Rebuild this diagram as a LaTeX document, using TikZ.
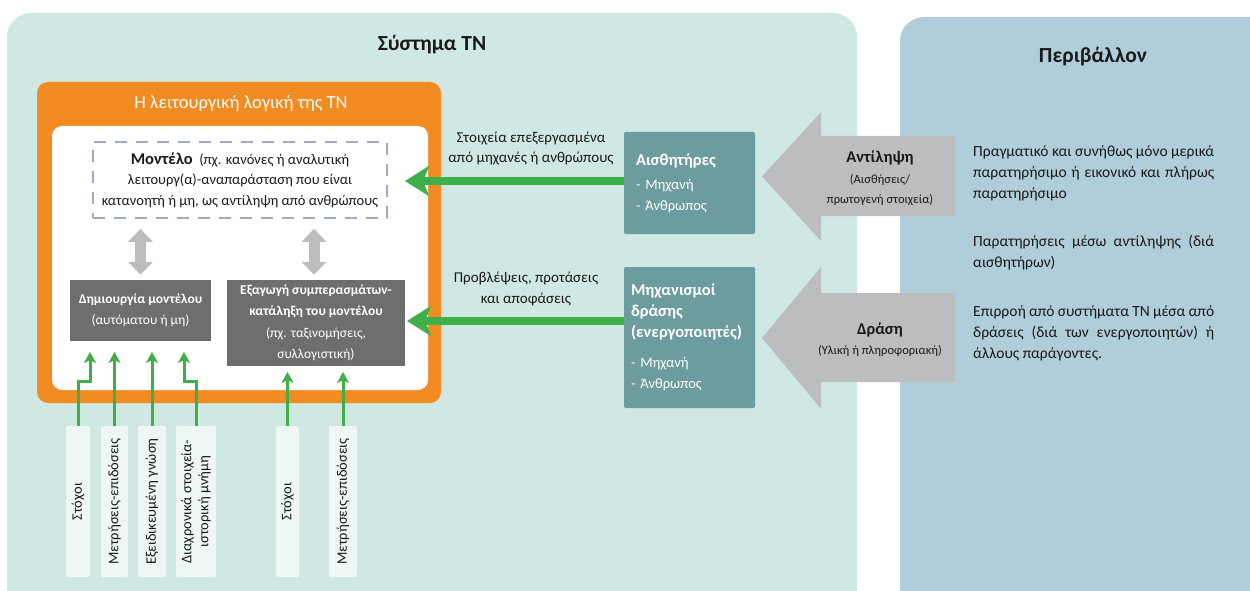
\documentclass[tikz,border=0pt]{standalone}
\usepackage{fontspec}
\setmainfont{Carlito}
\usetikzlibrary{arrows.meta,calc}
\definecolor{sysbg}{HTML}{CFE8E3}
\definecolor{envbg}{HTML}{B0CDDA}
\definecolor{orng}{HTML}{F28C22}
\definecolor{boxgray}{HTML}{6D6E70}
\definecolor{tealbox}{HTML}{6C9C9D}
\definecolor{grayarr}{HTML}{BCBDBF}
\definecolor{grn}{HTML}{3EAF49}
\definecolor{lblbg}{HTML}{EEF7F4}
\definecolor{dashc}{HTML}{A2A8C8}
\definecolor{txtc}{HTML}{1A1A1A}
\tikzset{
  body/.style={font=\fontsize{15}{20.5}\selectfont, text=txtc, inner sep=0pt, align=center},
  small/.style={font=\fontsize{12.5}{20}\selectfont, text=txtc, inner sep=0pt, align=center},
  darkbox/.style={fill=boxgray, text=white, inner sep=0pt, align=center, font=\fontsize{13.5}{21.5}\selectfont},
  tbox/.style={fill=tealbox, text=white, rounded corners=2pt, inner sep=0pt, align=left, font=\fontsize{14.5}{21}\selectfont},
  lbl/.style={fill=lblbg, rotate=90, minimum width=151pt, inner sep=0pt, rounded corners=2pt, align=center, text=txtc, font=\fontsize{14.5}{17}\selectfont},
  garrow/.style={draw=grn, line width=3pt, -{Stealth[length=11pt,width=12pt,inset=3pt]}},
  bigarrow/.style={draw=grn, line width=8pt, -{Stealth[length=24pt,width=30pt,inset=6pt]}},
  dblarrow/.style={draw=grayarr, line width=11pt, {Triangle[length=13pt,width=24pt]}-{Triangle[length=13pt,width=24pt]}},
  para/.style={inner sep=0pt, align=left, anchor=north west, text=txtc, font=\fontsize{15.5}{21}\selectfont},
}
\begin{document}
\begin{tikzpicture}[x=1pt,y=-1pt]
\useasboundingbox (0,0) rectangle (1250,591);
\begin{scope}
\clip (0,0) rectangle (1250,591);
% panels
\fill[sysbg, rounded corners=24pt] (7,13) rectangle (857,614);
\fill[envbg, rounded corners=24pt] (900,17) rectangle (1290,614);
\end{scope}
\node[font=\fontsize{21.5}{24}\selectfont\bfseries, text=txtc, inner sep=0pt] (systitle) at (432,45) {Σύστημα ΤΝ};
\node[font=\fontsize{21.5}{24}\selectfont\bfseries, text=txtc, inner sep=0pt] (envtitle) at (1093,57) {Περιβάλλον};

% orange logic box
\node[fill=orng, rounded corners=11pt, minimum width=404pt, minimum height=321pt, inner sep=0pt] (logic) at (239,242.5) {};
\node[fill=white, rounded corners=10pt, minimum width=376pt, minimum height=264pt, inner sep=0pt] (inner) at (240,258) {};
\node[font=\fontsize{18.5}{22}\selectfont, text=white, inner sep=0pt] (logictitle) at (241,103) {Η λειτουργική λογική της ΤΝ};

% model
\node[draw=dashc, line width=1.6pt, dash pattern=on 12pt off 9pt, minimum width=294pt, minimum height=76pt, body, font=\fontsize{14.5}{20.5}\selectfont] (model) at (240,180)
 {{\fontsize{16.5}{20}\selectfont\bfseries Μοντέλο}~~(πχ. κανόνες ή αναλυτική\\λειτουργ(α)-αναπαράσταση που είναι\\κατανοητή ή μη, ως αντίληψη από ανθρώπους};

% dark boxes
\node[darkbox, minimum width=141pt, minimum height=61pt] (create) at (140.5,310.5)
 {\bfseries Δημιουργία μοντέλου\\(αυτόματου ή μη)};
\node[darkbox, minimum width=178pt, minimum height=86pt] (infer) at (316,323)
 {\bfseries Εξαγωγή συμπερασμάτων-\\\bfseries κατάληξη του μοντέλου\\(πχ. ταξινομήσεις,\\συλλογιστική)};

% gray double arrows
\draw[dblarrow] ([yshift=-10pt]model.south -| create.north) -- ([yshift=5pt]create.north);
\draw[dblarrow] ([yshift=-10pt]model.south -| 314,0) -- ([yshift=5pt]infer.north -| 314,0);

% bottom labels
\node[lbl, minimum height=24pt] (b1) at (78,501.5) {Στόχοι};
\node[lbl, minimum height=27pt] (b2) at (114.5,501.5) {Μετρήσεις-επιδόσεις};
\node[lbl, minimum height=28pt] (b3) at (152,501.5) {Εξειδικευμένη γνώση};
\node[lbl, minimum height=40pt] (b4) at (196,501.5) {Διαχρονικά στοιχεία-\\ιστορική μνήμη};
\node[lbl, minimum height=23pt] (b5) at (287.5,501.5) {Στόχοι};
\node[lbl, minimum height=28pt] (b6) at (343,501.5) {Μετρήσεις-επιδόσεις};

\coordinate (t1) at (90,352);
\coordinate (t4) at (184,352);
\coordinate (t5) at (287.5,372);
\draw[garrow] (b1.east) -- ++(0,-44) -| (t1);
\draw[garrow] (b2.east) -- (b2.east |- t1);
\draw[garrow] (b3.east) -- (b3.east |- t1);
\draw[garrow] (b4.east) -- ++(0,-44) -| (t4);
\draw[garrow] (b5.east) -- (b5.east |- t5);
\draw[garrow] (b6.east) -- (b6.east |- t5);

% teal boxes
\node[tbox, minimum width=131pt, minimum height=102pt, text width=107pt] (sens) at (689.5,183)
 {{\fontsize{16.5}{20}\selectfont\bfseries Αισθητήρες}\\[3pt]- Μηχανή\\- Άνθρωπος};
\node[tbox, minimum width=131pt, minimum height=141pt, text width=117pt] (act) at (689.5,337.5)
 {{\fontsize{16.5}{20.5}\selectfont\bfseries Μηχανισμοί\\δράσης\\(ενεργοποιητές)}\\[9pt]- Μηχανή\\- Άνθρωπος};

% green horizontal arrows
\coordinate (tipA) at (405,181);
\coordinate (tipB) at (407,321);
\draw[bigarrow] (sens.west |- tipA) -- (tipA);
\draw[bigarrow] (act.west |- tipB) -- (tipB);
\node[body] (lblA) at (531,148.5) {Στοιχεία επεξεργασμένα\\από μηχανές ή ανθρώπους};
\node[body] (lblB) at (526,289) {Προβλέψεις, προτάσεις\\και αποφάσεις};

% gray big arrows
\fill[grayarr] (955,136) -- (821,136) -- (821,112) -- (762,176.5) -- (821,241) -- (821,216) -- (955,216) -- cycle;
\fill[grayarr] (955,293) -- (821,293) -- (821,267) -- (762,338) -- (821,409) -- (821,382) -- (955,382) -- cycle;
\node[font=\fontsize{16.5}{20}\selectfont\bfseries, text=txtc, inner sep=0pt] (perc) at (880,158) {Αντίληψη};
\node[small] (percsub) at (880,190) {(Αισθήσεις/\\πρωτογενή στοιχεία)};
\node[font=\fontsize{16.5}{20}\selectfont\bfseries, text=txtc, inner sep=0pt] (actn) at (880,330) {Δράση};
\node[small] (actnsub) at (880,351) {(Υλική ή πληροφοριακή)};

% right paragraphs
\node[para] (p1) at (973,145)
 {\makebox[241pt][s]{Πραγματικό και συνήθως μόνο μερικά}\\\makebox[241pt][s]{παρατηρήσιμο ή εικονικό και πλήρως}\\παρατηρήσιμο};
\node[para] (p2) at (973,235)
 {\makebox[241pt][s]{Παρατηρήσεις μέσω αντίληψης (διά}\\αισθητήρων)};
\node[para] (p3) at (973,305)
 {\makebox[241pt][s]{Επιρροή από συστήματα ΤΝ μέσα από}\\\makebox[241pt][s]{δράσεις (διά των ενεργοποιητών) ή}\\άλλους παράγοντες.};
\end{tikzpicture}
\end{document}
